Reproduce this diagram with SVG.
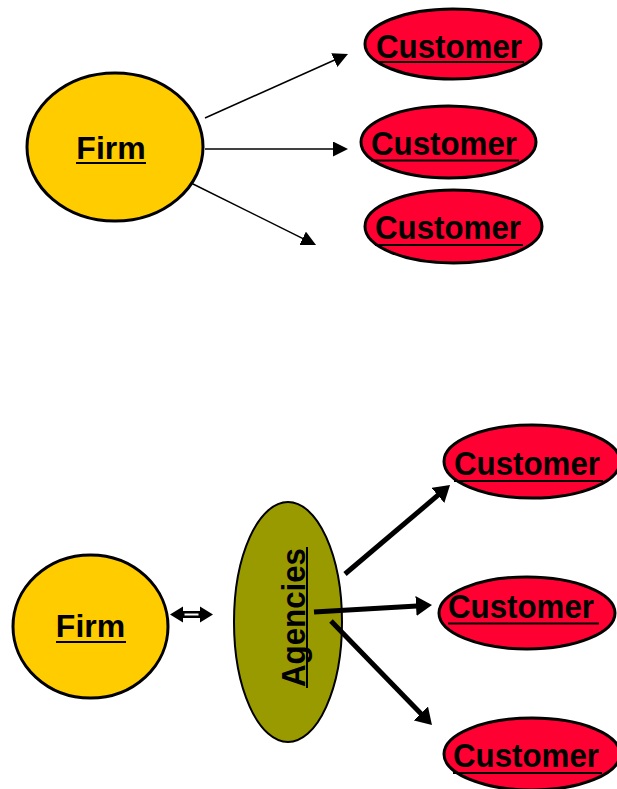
<svg xmlns="http://www.w3.org/2000/svg" width="617" height="789" viewBox="0 0 617 789">
  <style>
    .firm { fill: #FFCC00; stroke: #000; stroke-width: 3; }
    .cust { fill: #FF0033; stroke: #000; stroke-width: 3; }
    .agency { fill: #999900; stroke: #000; stroke-width: 2; }
    .label { font-family: "Liberation Sans", Arial, sans-serif; font-weight: bold; fill: #000; }
    .ul { stroke: #000; stroke-width: 2; }
    .thin { stroke: #000; stroke-width: 1.5; fill: none; marker-end: url(#headThin); }
    .thick { stroke: #000; stroke-width: 5; fill: none; marker-end: url(#headThick); }
  </style>
  <defs>
    <marker id="headThin" markerUnits="userSpaceOnUse" viewBox="0 0 15 15" markerWidth="15" markerHeight="15" refX="1" refY="7.5" orient="auto">
      <path d="M0,0 L15,7.5 L0,15 z" fill="#000"/>
    </marker>
    <marker id="headThick" markerUnits="userSpaceOnUse" viewBox="0 0 16 20" markerWidth="16" markerHeight="20" refX="1" refY="10" orient="auto">
      <path d="M0,0 L16,10 L0,20 z" fill="#000"/>
    </marker>
  </defs>

  <rect width="617" height="789" fill="#fff"/>

  <!-- direct model: firm to customers -->
  <g id="firm-top">
    <ellipse class="firm" cx="115" cy="147" rx="88" ry="74"/>
    <text class="label" x="111" y="159" font-size="32" text-anchor="middle">Firm</text>
    <line class="ul" x1="76" y1="163" x2="146" y2="163"/>
  </g>

  <g id="customer-top-1">
    <ellipse class="cust" cx="453" cy="44" rx="88" ry="35"/>
    <text class="label" x="376" y="58" font-size="34" textLength="146" lengthAdjust="spacingAndGlyphs">Customer</text>
    <line class="ul" x1="376" y1="62" x2="524" y2="62"/>
  </g>

  <g id="customer-top-2">
    <ellipse class="cust" cx="448.5" cy="142" rx="87.5" ry="36"/>
    <text class="label" x="371" y="155" font-size="34" textLength="146" lengthAdjust="spacingAndGlyphs">Customer</text>
    <line class="ul" x1="371" y1="160.5" x2="519" y2="160.5"/>
  </g>

  <g id="customer-top-3">
    <ellipse class="cust" cx="453.5" cy="226.5" rx="88.5" ry="36.5"/>
    <text class="label" x="375" y="239" font-size="34" textLength="146" lengthAdjust="spacingAndGlyphs">Customer</text>
    <line class="ul" x1="375" y1="245" x2="523" y2="245"/>
  </g>

  <!-- indirect model: firm via agencies -->
  <g id="firm-bottom">
    <ellipse class="firm" cx="90.5" cy="626.5" rx="77.5" ry="71.5"/>
    <text class="label" x="90.5" y="637" font-size="32" text-anchor="middle">Firm</text>
    <line class="ul" x1="56" y1="642" x2="126" y2="642"/>
  </g>

  <g id="agencies">
    <ellipse class="agency" cx="288" cy="622" rx="54" ry="120"/>
    <text class="label" transform="translate(305,617.5) rotate(-90)" x="0" y="0" font-size="34" text-anchor="middle" textLength="139" lengthAdjust="spacingAndGlyphs">Agencies</text>
    <line class="ul" x1="307" y1="547" x2="307" y2="688"/>
  </g>

  <g id="customer-bottom-1">
    <ellipse class="cust" cx="532" cy="461.5" rx="88" ry="36.5"/>
    <text class="label" x="454" y="475" font-size="34" textLength="146" lengthAdjust="spacingAndGlyphs">Customer</text>
    <line class="ul" x1="454" y1="481" x2="603" y2="481"/>
  </g>

  <g id="customer-bottom-2">
    <ellipse class="cust" cx="527" cy="613" rx="88" ry="36"/>
    <text class="label" x="448" y="618" font-size="34" textLength="146" lengthAdjust="spacingAndGlyphs">Customer</text>
    <line class="ul" x1="448" y1="623.5" x2="599" y2="623.5"/>
  </g>

  <g id="customer-bottom-3">
    <ellipse class="cust" cx="532" cy="754" rx="88" ry="36"/>
    <text class="label" x="453" y="767" font-size="34" textLength="146" lengthAdjust="spacingAndGlyphs">Customer</text>
    <line class="ul" x1="453" y1="773" x2="602" y2="773"/>
  </g>

  <!-- connectors drawn last so the agency arrows sit on top of the ellipse -->
  <g id="connectors">
    <line class="thin" x1="205" y1="118" x2="335.2" y2="59.7"/>
    <line class="thin" x1="205" y1="149" x2="334" y2="149"/>
    <line class="thin" x1="191" y1="183" x2="303.5" y2="238.8"/>

    <line class="thick" x1="345" y1="574" x2="438.6" y2="494.7"/>
    <line class="thick" x1="314" y1="612" x2="417" y2="605.9"/>
    <line class="thick" x1="331" y1="621" x2="421.5" y2="714.2"/>

    <!-- two-way link between firm and agencies -->
    <g id="twoway">
      <polygon points="170,614.5 183,606.5 183,611 200,611 200,606.5 213,614.5 200,622.5 200,618 183,618 183,622.5" fill="#000"/>
      <line x1="184.5" y1="614.5" x2="198.5" y2="614.5" stroke="#fff" stroke-width="2"/>
    </g>
  </g>
</svg>
